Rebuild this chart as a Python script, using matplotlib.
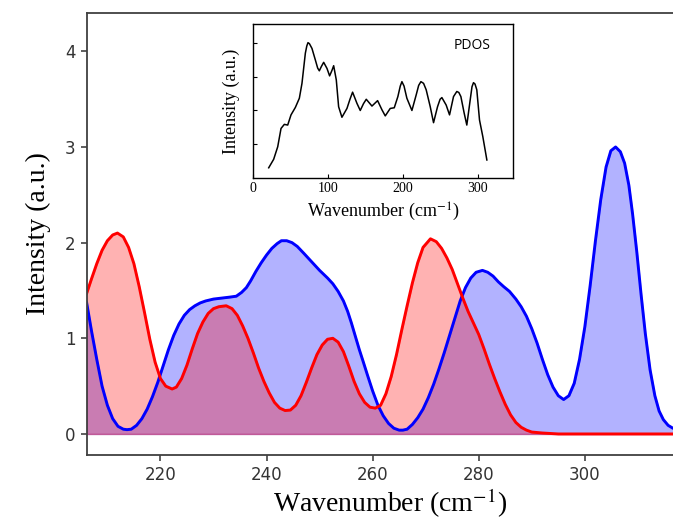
import numpy as np
import matplotlib
matplotlib.use('Agg')
import matplotlib.pyplot as plt

plt.rcParams['mathtext.fontset'] = 'stix'

# Werte

# rote Kurve
rot_x = [206.1, 207, 208, 209, 210, 211, 211.9, 213, 214, 215, 216, 217, 218, 219, 220, 221, 222.2,
         223, 224, 225, 226, 227, 228, 229, 230, 231, 232.4, 233.5, 234.5, 235.5, 236.5, 237.5,
         238.5, 239.5, 240.5, 241.5, 242.5, 243.5, 244.5, 245.5, 246.5, 247.5, 248.5, 249.5, 250.5,
         251.5, 252.5, 253.5, 254.5, 255.5, 256.5, 257.5, 258.5, 259.5, 260.5, 261.5, 262.5, 263.5,
         264.5, 265.5, 266.5, 267.5, 268.5, 269.5, 270.9, 272, 273, 274, 275, 276, 277, 278, 279,
         280, 281, 282, 283, 284, 285, 286, 287, 288, 289, 290, 292, 295, 300, 310, 320.4]
rot_y = [1.47, 1.62, 1.78, 1.92, 2.02, 2.08, 2.10, 2.06, 1.95, 1.78, 1.54, 1.27, 0.99, 0.75, 0.58,
         0.50, 0.47, 0.49, 0.58, 0.72, 0.89, 1.05, 1.17, 1.26, 1.31, 1.33, 1.34, 1.31, 1.24, 1.13,
         1.00, 0.85, 0.69, 0.55, 0.43, 0.33, 0.27, 0.245, 0.25, 0.30, 0.40, 0.54, 0.69, 0.83, 0.93,
         0.99, 1.00, 0.96, 0.86, 0.71, 0.55, 0.42, 0.33, 0.28, 0.27, 0.30, 0.42, 0.60, 0.83, 1.09,
         1.34, 1.58, 1.79, 1.95, 2.04, 2.01, 1.94, 1.84, 1.72, 1.57, 1.42, 1.28, 1.16, 1.04, 0.89,
         0.73, 0.58, 0.44, 0.31, 0.20, 0.12, 0.07, 0.04, 0.02, 0.01, 0.0, 0.0, 0.0, 0.0]

# blaue Kurve
blau_x = [206.1, 207, 208, 209, 210, 211, 212, 213, 213.7, 214.5, 215.5, 216.5, 217.5, 218.5, 219.5,
          220.5, 221.5, 222.5, 223.5, 224.5, 225.5, 226.5, 227.5, 228.5, 230, 231.5, 233, 234.3,
          235.3, 236.2, 237, 238, 239, 240, 241, 242, 242.8, 243.8, 244.8, 245.8, 247, 248.5, 250,
          251.5, 252.5, 253.5, 254.5, 255.3, 256, 256.8, 257.5, 258.2, 259, 260, 261, 262, 263, 264,
          265, 265.7, 266.5, 267.5, 268.5, 269.5, 270.5, 271.5, 272.5, 273.5, 274.5, 275.5, 276.5,
          277.5, 278.5, 279.5, 280.7, 281.7, 282.7, 283.7, 284.7, 285.8, 287, 288, 289, 290, 291,
          292, 293, 294, 295, 296, 297, 298, 299, 300, 301, 302, 303, 304, 304.9, 305.8, 306.7,
          307.5, 308.3, 309, 309.8, 310.6, 311.4, 312.3, 313.2, 314, 314.8, 315.7, 316.6, 318.5, 320.4]
blau_y = [1.37, 1.08, 0.78, 0.50, 0.30, 0.16, 0.08, 0.05, 0.045, 0.05, 0.09, 0.16, 0.26, 0.39, 0.54,
          0.71, 0.88, 1.03, 1.15, 1.24, 1.30, 1.34, 1.37, 1.39, 1.41, 1.42, 1.43, 1.44,
          1.48, 1.53, 1.60, 1.70, 1.79, 1.87, 1.94, 1.99, 2.02, 2.02, 2.00, 1.96, 1.89, 1.80, 1.71,
          1.63, 1.57, 1.49, 1.39, 1.28, 1.16, 1.01, 0.88, 0.76, 0.62, 0.45, 0.30, 0.19, 0.11, 0.06,
          0.04, 0.04, 0.05, 0.10, 0.17, 0.26, 0.38, 0.52, 0.68, 0.85, 1.03, 1.21, 1.39,
          1.53, 1.63, 1.69, 1.71, 1.69, 1.65, 1.59, 1.54, 1.49, 1.41, 1.33, 1.23, 1.10, 0.95,
          0.78, 0.62, 0.49, 0.40, 0.36, 0.40, 0.53, 0.78, 1.12, 1.55, 2.02, 2.45, 2.79, 2.96, 3.00, 2.95,
          2.83, 2.60, 2.30, 1.90, 1.46, 1.05, 0.67, 0.40, 0.24, 0.15, 0.09, 0.06, 0.03, 0.02]

# PDOS im kleinen Bild
pdos_x = [21.3, 27.9, 33.3, 37.7, 42.1, 46.6, 51.0, 56.8, 62.1, 65.6, 70.1, 72.0, 73.6, 75.5, 78.9,
          83.4, 86.5, 88.7, 91.5, 94.5, 98.9, 102.4, 105.5, 107.8, 111.3, 114.4, 118.8, 125.5, 129.5,
          133.0, 138.8, 143.2, 147.5, 151.2, 158.8, 163.0, 166.3, 172.1, 176.5, 183.1, 188.5, 193.3,
          196.5, 198.7, 201.5, 205.3, 212.0, 217.7, 221.0, 224.0, 227.5, 231.0, 236.4, 240.8, 246.1,
          249.5, 251.9, 257.6, 262.1, 267.4, 271.8, 274.5, 277.2, 281.6, 285.1, 289.6, 292.0, 294.0,
          296.0, 298.4, 302.0, 306.4, 311.8]
pdos_y = [0.31, 0.56, 0.93, 1.47, 1.59, 1.57, 1.87, 2.09, 2.36, 2.80, 3.69, 3.90, 4.00, 3.97, 3.83,
          3.49, 3.25, 3.17, 3.30, 3.42, 3.24, 3.02, 3.18, 3.32, 2.90, 2.11, 1.80, 2.06, 2.33,
          2.54, 2.21, 2.00, 2.20, 2.33, 2.13, 2.22, 2.29, 2.02, 1.84, 2.06, 2.08, 2.41,
          2.72, 2.85, 2.72, 2.36, 2.00, 2.46, 2.74, 2.85, 2.80, 2.61, 2.11, 1.64, 2.11,
          2.33, 2.38, 2.16, 1.87, 2.41, 2.56, 2.53, 2.41, 1.92, 1.57, 2.31, 2.70, 2.82,
          2.78, 2.61, 1.72, 1.23, 0.54]

x_ticks = [220, 240, 260, 280, 300]
y_ticks = [0, 1, 2, 3, 4]
pdos_xticks = [0, 100, 200, 300]

fig = plt.figure(figsize=(6.73, 5.23), dpi=100)
ax = fig.add_axes([0.1288, 0.130, 0.901, 0.8451])

ax.fill_between(blau_x, 0, blau_y, color='blue', alpha=0.3, linewidth=1)
ax.fill_between(rot_x, 0, rot_y, color='red', alpha=0.3, linewidth=1)
ax.plot(blau_x, blau_y, color='blue', linewidth=2.1, solid_joinstyle='round')
ax.plot(rot_x, rot_y, color='red', linewidth=2.1, solid_joinstyle='round')

ax.set_xlim(206.1, 320.4)
ax.set_ylim(-0.22, 4.40)
ax.set_xticks(x_ticks)
ax.set_yticks(y_ticks)
ax.tick_params(labelsize=12, length=4.5, width=1.1, colors='#333333', labelcolor='#333333')
for s in ['left', 'bottom', 'top']:
    ax.spines[s].set_color('#404040')
    ax.spines[s].set_linewidth(1.3)
ax.spines['right'].set_visible(False)
ax.set_xlabel(r'Wavenumber (cm$^{-1}$)', family='Liberation Serif', size=20, labelpad=2)
ax.set_ylabel('Intensity (a.u.)', family='Liberation Serif', size=20, labelpad=10)

# kleines Bild oben
ins = fig.add_axes([0.3755, 0.6591, 0.3872, 0.295])
ins.plot(pdos_x, pdos_y, color='black', linewidth=1.1)
ins.set_xlim(0, 347)
ins.set_ylim(0, 4.55)
ins.set_xticks(pdos_xticks)
ins.set_xticklabels([str(t) for t in pdos_xticks], family='Liberation Serif', size=10)
ins.set_yticks([1, 2, 3, 4])
ins.set_yticklabels([])
ins.tick_params(direction='in', length=3, width=0.8, pad=3)
for s in ins.spines.values():
    s.set_linewidth(1.0)
ins.text(0.84, 0.84, 'PDOS', transform=ins.transAxes, family='Open Sans', size=10, ha='center')
ins.set_xlabel(r'Wavenumber (cm$^{-1}$)', family='Liberation Serif', size=13, labelpad=4)
ins.set_ylabel('Intensity (a.u.)', family='Liberation Serif', size=13, labelpad=6)

plt.savefig('out.png', dpi=100)
